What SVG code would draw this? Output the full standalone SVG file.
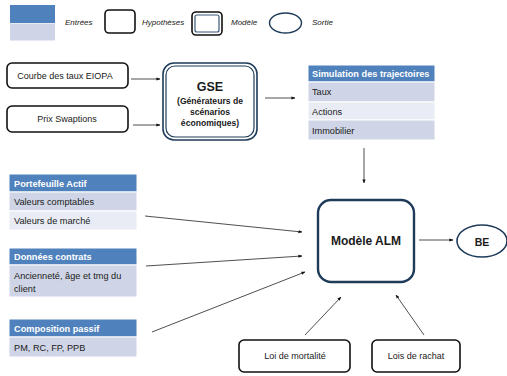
<svg xmlns="http://www.w3.org/2000/svg" width="507" height="376" viewBox="0 0 507 376">
  <defs>
    <marker id="arr" viewBox="0 0 10 10" refX="9" refY="5" markerWidth="5" markerHeight="5" orient="auto" markerUnits="strokeWidth">
      <path d="M0,1 L10,5 L0,9 z" fill="#111"/>
    </marker>
    <style>
      text { font-family: "Liberation Sans", Arial, sans-serif; fill: #1a1a1a; }
      .lg { font-size: 8px; font-style: italic; }
      .hd { fill: #4f81bd; stroke: #ffffff; stroke-width: 1; }
      .r1 { fill: #cfd5e6; stroke: #ffffff; stroke-width: 1; }
      .r2 { fill: #e9ecf4; stroke: #ffffff; stroke-width: 1; }
      .ht { font-size: 9.2px; font-weight: bold; fill: #ffffff; }
      .rt { font-size: 9.2px; }
      .hyp { fill: #ffffff; stroke: #111; stroke-width: 1.6; }
      .bt { font-size: 9px; text-anchor: middle; }
      .conn line { stroke: #222; stroke-width: 0.8; marker-end: url(#arr); }
      .dbl-o { fill: #ffffff; stroke: #1f3b5a; stroke-width: 1.6; }
      .dbl-i { fill: none; stroke: #1f3b5a; stroke-width: 1.2; }
    </style>
  </defs>
  <rect width="507" height="376" fill="#ffffff"/>

  <!-- legend -->
  <g id="legend">
    <rect x="10" y="5" width="45" height="18" fill="#4f81bd"/>
    <rect x="10" y="23.5" width="45" height="17" fill="#cfd5e6"/>
    <text class="lg" x="65" y="25">Entrées</text>
    <rect x="105" y="10" width="30" height="23" rx="4" class="hyp"/>
    <text class="lg" x="142" y="25">Hypothèses</text>
    <rect x="192" y="12" width="30" height="23" rx="4" fill="#fff" stroke="#111" stroke-width="1.6"/>
    <rect x="195" y="15" width="24" height="17" rx="2" fill="none" stroke="#3b5a7a" stroke-width="1.2"/>
    <text class="lg" x="231" y="25">Modèle</text>
    <ellipse cx="285.5" cy="23" rx="16" ry="10" fill="#fff" stroke="#1f3b5a" stroke-width="1.4"/>
    <text class="lg" x="312" y="25">Sortie</text>
  </g>

  <!-- hypotheses -->
  <g id="courbe">
    <rect x="7" y="63" width="121" height="25" rx="5" class="hyp"/>
    <text class="bt" x="65" y="79">Courbe des taux EIOPA</text>
  </g>
  <g id="swaptions">
    <rect x="7" y="106" width="121" height="26" rx="5" class="hyp"/>
    <text class="bt" x="67" y="122">Prix Swaptions</text>
  </g>

  <!-- GSE model -->
  <g id="gse">
    <rect x="163" y="63" width="94" height="77" rx="11" class="dbl-o"/>
    <rect x="166" y="66" width="88" height="71" rx="9" class="dbl-i"/>
    <text x="210" y="91" text-anchor="middle" font-size="12.5" font-weight="bold">GSE</text>
    <text x="210" y="104" text-anchor="middle" font-size="8.6" font-weight="bold">(Générateurs de</text>
    <text x="210" y="115" text-anchor="middle" font-size="8.6" font-weight="bold">scénarios</text>
    <text x="210" y="126" text-anchor="middle" font-size="8.6" font-weight="bold">économiques)</text>
  </g>

  <!-- simulation table -->
  <g id="simulation">
    <rect x="308" y="65" width="127" height="17" class="hd"/>
    <text class="ht" x="312" y="77">Simulation des trajectoires</text>
    <rect x="308" y="82" width="127" height="20" class="r1"/>
    <text class="rt" x="312" y="95">Taux</text>
    <rect x="308" y="102" width="127" height="18" class="r2"/>
    <text class="rt" x="312" y="114.5">Actions</text>
    <rect x="308" y="120" width="127" height="20" class="r1"/>
    <text class="rt" x="312" y="133.5">Immobilier</text>
  </g>

  <!-- input tables -->
  <g id="portefeuille">
    <rect x="9" y="174" width="128" height="18" class="hd"/>
    <text class="ht" x="14" y="186.5">Portefeuille Actif</text>
    <rect x="9" y="192" width="128" height="19" class="r1"/>
    <text class="rt" x="14" y="205">Valeurs comptables</text>
    <rect x="9" y="211" width="128" height="19" class="r2"/>
    <text class="rt" x="14" y="224">Valeurs de marché</text>
  </g>
  <g id="contrats">
    <rect x="9" y="248" width="128" height="17" class="hd"/>
    <text class="ht" x="14" y="260">Données contrats</text>
    <rect x="9" y="265" width="128" height="32" class="r1"/>
    <text class="rt" x="14" y="279">Ancienneté, âge et tmg du</text>
    <text class="rt" x="14" y="292">client</text>
  </g>
  <g id="passif">
    <rect x="9" y="319" width="128" height="18" class="hd"/>
    <text class="ht" x="14" y="331.5">Composition passif</text>
    <rect x="9" y="337" width="128" height="20" class="r1"/>
    <text class="rt" x="14" y="350.5">PM, RC, FP, PPB</text>
  </g>

  <!-- ALM model -->
  <g id="alm">
    <rect x="318" y="200" width="96" height="82" rx="13" fill="#fff" stroke="#1f3b5a" stroke-width="2.4"/>
    <text x="366" y="245" text-anchor="middle" font-size="12" font-weight="bold">Modèle ALM</text>
  </g>

  <!-- output -->
  <g id="be">
    <ellipse cx="482" cy="241" rx="25" ry="16" fill="#fff" stroke="#1f3b5a" stroke-width="1.6"/>
    <text x="482" y="245.5" text-anchor="middle" font-size="10.5" font-weight="bold">BE</text>
  </g>

  <!-- assumption boxes -->
  <g id="mortalite">
    <rect x="239" y="340" width="111" height="32" rx="5" class="hyp"/>
    <text class="bt" x="295" y="359">Loi de mortalité</text>
  </g>
  <g id="rachat">
    <rect x="372" y="340" width="88" height="32" rx="5" class="hyp"/>
    <text class="bt" x="416" y="359">Lois de rachat</text>
  </g>

  <!-- connectors -->
  <g class="conn" id="connectors">
    <line x1="131" y1="79" x2="160" y2="79"/>
    <line x1="133" y1="125" x2="160" y2="125"/>
    <line x1="265" y1="98" x2="295" y2="98"/>
    <line x1="364" y1="148" x2="364" y2="183"/>
    <line x1="145" y1="216" x2="302" y2="232"/>
    <line x1="146" y1="266" x2="302" y2="256"/>
    <line x1="152" y1="332" x2="305" y2="272"/>
    <line x1="419" y1="240" x2="453" y2="240"/>
    <line x1="305" y1="335" x2="341" y2="297"/>
    <line x1="424" y1="335" x2="396" y2="295"/>
  </g>
</svg>
